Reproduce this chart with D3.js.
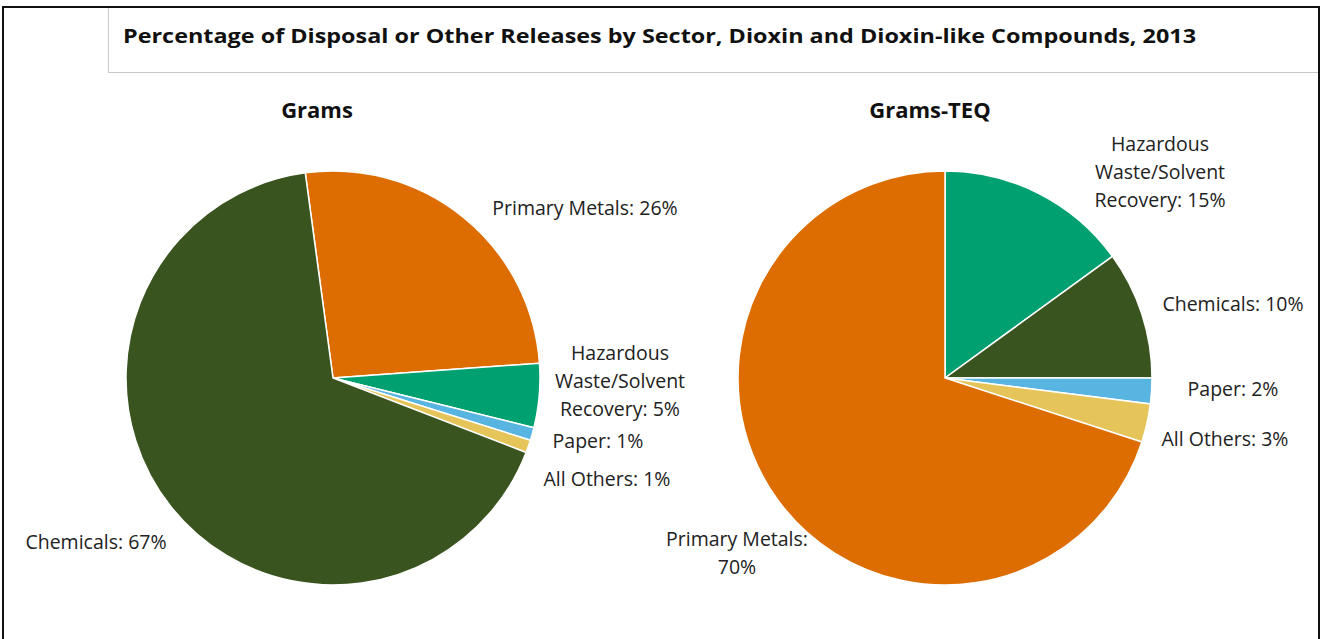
<!DOCTYPE html>
<html>
<head>
<meta charset="utf-8">
<script src="https://cdn.jsdelivr.net/npm/d3@7/dist/d3.min.js"></script>
<style>
  html, body { margin: 0; padding: 0; background: #fff; }
  svg { display: block; }
  text { font-family: "Open Sans", "Noto Sans", sans-serif; fill: #222; }
</style>
</head>
<body>
<svg id="chart" width="1324" height="639"></svg>
<script>
// Dioxin releases by sector, 2013 (percent of total)
const chartTitle = "Percentage of Disposal or Other Releases by Sector, Dioxin and Dioxin-like Compounds,  2013";

const gramsSectors = ["Primary Metals", "Hazardous Waste/Solvent Recovery", "Paper", "All Others", "Chemicals"];
const gramsValues  = [26, 5, 1, 1, 67];

const teqSectors = ["Hazardous Waste/Solvent Recovery", "Chemicals", "Paper", "All Others", "Primary Metals"];
const teqValues  = [15, 10, 2, 3, 70];

const sectorColors = {
  "Chemicals": "#3a5420",
  "Primary Metals": "#dd6d00",
  "Hazardous Waste/Solvent Recovery": "#00a070",
  "Paper": "#58b4e0",
  "All Others": "#e5c55a"
};

const svg = d3.select("#chart");
const W = 1324, H = 639;

// outer frame
svg.append("path")
  .attr("d", `M3,${H + 5} L3,7 L1319,7 L1319,${H + 5}`)
  .attr("fill", "none").attr("stroke", "#111").attr("stroke-width", 2);

// title box
svg.append("path")
  .attr("d", "M108.5,8 L108.5,72.5 L1318,72.5")
  .attr("fill", "none").attr("stroke", "#c8c8c8").attr("stroke-width", 1);

svg.append("text")
  .attr("x", 123).attr("y", 43)
  .attr("font-size", 20).attr("font-weight", 700)
  .attr("textLength", 1073).attr("lengthAdjust", "spacingAndGlyphs")
  .style("fill", "#111")
  .text(chartTitle);

const labelSize = 19.5;

function drawPie(cfg) {
  const g = svg.append("g").attr("transform", `translate(${cfg.cx},${cfg.cy})`);
  const data = cfg.sectors.map((s, i) => ({ sector: s, value: cfg.values[i] }));
  const pie = d3.pie().sort(null).value(d => d.value)
    .startAngle(cfg.start).endAngle(cfg.start + 2 * Math.PI);
  const arc = d3.arc().innerRadius(0).outerRadius(cfg.r);

  g.selectAll("path.slice").data(pie(data)).join("path")
    .attr("class", "slice")
    .attr("d", arc)
    .attr("fill", d => sectorColors[d.data.sector])
    .attr("stroke", "#fff").attr("stroke-width", 1.5);

  svg.append("text")
    .attr("x", cfg.titleX).attr("y", 118)
    .attr("text-anchor", "middle")
    .attr("font-size", 22).attr("font-weight", 700)
    .style("fill", "#111")
    .text(cfg.title);

  data.forEach(d => {
    const pos = cfg.labels[d.sector];
    const lines = pos.lines.map(l => l.replace("{v}", d.value + "%"));
    const t = svg.append("text")
      .attr("text-anchor", "middle")
      .attr("font-size", labelSize);
    lines.forEach((l, i) => {
      t.append("tspan").attr("x", pos.x).attr("y", pos.y + i * 28 + 6).text(l);
    });
  });
}

drawPie({
  title: "Grams", titleX: 317,
  cx: 333, cy: 378, r: 207,
  start: -7.7 * Math.PI / 180,
  sectors: gramsSectors, values: gramsValues,
  labels: {
    "Primary Metals": { x: 585, y: 209, lines: ["Primary Metals: {v}"] },
    "Hazardous Waste/Solvent Recovery": { x: 620, y: 354, lines: ["Hazardous", "Waste/Solvent", "Recovery: {v}"] },
    "Paper": { x: 598, y: 442, lines: ["Paper: {v}"] },
    "All Others": { x: 607, y: 480, lines: ["All Others: {v}"] },
    "Chemicals": { x: 96, y: 543, lines: ["Chemicals: {v}"] }
  }
});

drawPie({
  title: "Grams-TEQ", titleX: 930,
  cx: 945, cy: 378, r: 207,
  start: 0,
  sectors: teqSectors, values: teqValues,
  labels: {
    "Hazardous Waste/Solvent Recovery": { x: 1160, y: 145, lines: ["Hazardous", "Waste/Solvent", "Recovery: {v}"] },
    "Chemicals": { x: 1233, y: 305, lines: ["Chemicals: {v}"] },
    "Paper": { x: 1233, y: 390, lines: ["Paper: {v}"] },
    "All Others": { x: 1225, y: 440, lines: ["All Others: {v}"] },
    "Primary Metals": { x: 737, y: 540, lines: ["Primary Metals:", "{v}"] }
  }
});
</script>
</body>
</html>
